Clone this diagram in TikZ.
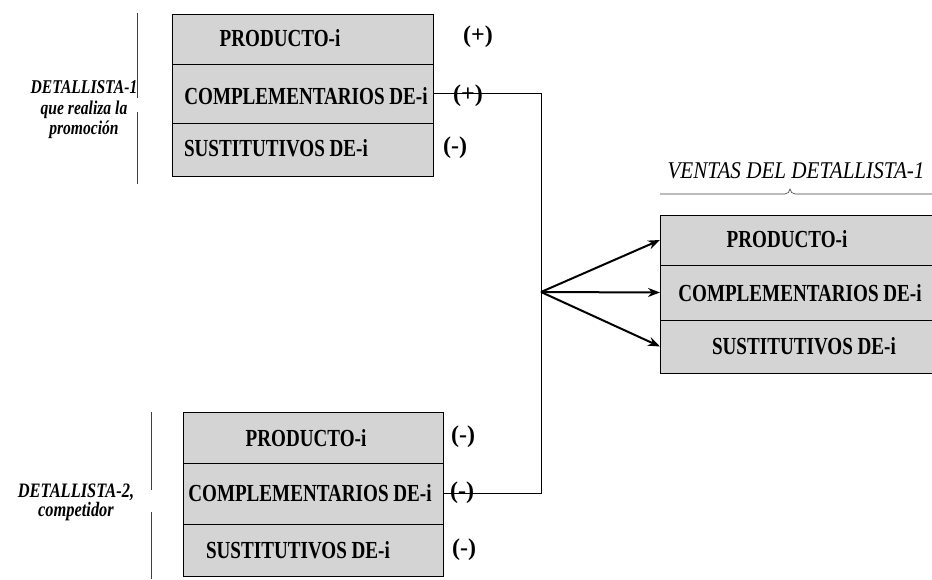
\documentclass[tikz,border=0pt]{standalone}
\usepackage{fontspec}
\setmainfont{Liberation Serif}
\newfontfamily\boxfont[FakeStretch=0.78]{Liberation Serif}
\newfontfamily\lblfont[FakeStretch=0.8]{Liberation Serif}
\newfontfamily\ttlfont[FakeStretch=0.88]{Liberation Serif}
\usetikzlibrary{arrows.meta}
\begin{document}
\begin{tikzpicture}[x=1pt,y=-1pt,
  rowbox/.style={draw=black, line width=0.8pt, fill=black!17, anchor=north west, inner sep=0pt, outer sep=0pt},
  boxtxt/.style={font=\boxfont\bfseries\fontsize{24.5}{25}\selectfont, inner sep=0pt},
  sign/.style={font=\bfseries\fontsize{24}{24}\selectfont, inner sep=0pt},
  lbl/.style={font=\lblfont\bfseries\itshape\fontsize{19.5}{20.5}\selectfont, align=center, inner sep=0pt},
  ttl/.style={font=\ttlfont\itshape\fontsize{24}{24}\selectfont, inner sep=0pt},
  wire/.style={line width=0.8pt},
  arr/.style={line width=2pt, -{Stealth[length=12pt,width=9pt]}},
  brk/.style={line width=0.6pt, black!75}]
\useasboundingbox (0,0) rectangle (932,579);
\clip (0,0) rectangle (932,579);
% top group (detallista 1)
\node[rowbox, minimum width=261pt, minimum height=50pt] (t1) at (172,14) {};
\node[rowbox, minimum width=261pt, minimum height=59pt] (t2) at (172,64) {};
\node[rowbox, minimum width=261pt, minimum height=53pt] (t3) at (172,123) {};
\node[boxtxt] (t1txt) at (280,38) {PRODUCTO-i};
\node[boxtxt] (t2txt) at (306,96) {COMPLEMENTARIOS DE-i};
\node[boxtxt] (t3txt) at (276,148) {SUSTITUTIVOS DE-i};
\node[sign] (s1) at (478,37) {(+)};
\node[sign] (s2) at (468,96) {(+)};
\node[sign] (s3) at (455,148) {(-)};
% bottom group (detallista 2)
\node[rowbox, minimum width=260pt, minimum height=51pt] (b1) at (183,412) {};
\node[rowbox, minimum width=260pt, minimum height=61pt] (b2) at (183,463) {};
\node[rowbox, minimum width=260pt, minimum height=52pt] (b3) at (183,524) {};
\node[boxtxt] (b1txt) at (306,438) {PRODUCTO-i};
\node[boxtxt] (b2txt) at (310,493) {COMPLEMENTARIOS DE-i};
\node[boxtxt] (b3txt) at (298,550) {SUSTITUTIVOS DE-i};
\node[sign] (u1) at (463,437) {(-)};
\node[sign] (u2) at (462,493) {(-)};
\node[sign] (u3) at (464,550) {(-)};
% right group (ventas)
\node[rowbox, minimum width=290pt, minimum height=50pt] (r1) at (660,215) {};
\node[rowbox, minimum width=290pt, minimum height=55pt] (r2) at (660,265) {};
\node[rowbox, minimum width=290pt, minimum height=53pt] (r3) at (660,320) {};
\node[boxtxt] (r1txt) at (787,239) {PRODUCTO-i};
\node[boxtxt] (r2txt) at (800,293) {COMPLEMENTARIOS DE-i};
\node[boxtxt] (r3txt) at (804,346) {SUSTITUTIVOS DE-i};
\node[ttl] (title) at (796,171) {VENTAS DEL DETALLISTA-1};
\draw[brk] (660,194) -- (785,194) to[out=0,in=-100] (790,189) to[out=-80,in=180] (795,194) -- (940,194);
% left labels and brackets
\node[lbl] (lab1) at (84,110) {DETALLISTA-1\\que realiza la\\promoción};
\node[lbl, font=\lblfont\bfseries\itshape\fontsize{20.5}{19}\selectfont] (lab2) at (76,502) {DETALLISTA-2,\\competidor};
\draw[brk] (137,13) -- (137,98);
\draw[brk] (137,112) -- (137,184);
\draw[brk] (151,412) -- (151,490);
\draw[brk] (151,512) -- (151,579);
% connectors
\coordinate (hub) at (541,292);
\draw[wire] (t2.east) -| (hub);
\draw[wire] (hub) |- (b2.east);
\draw[arr] (hub) -- (r1.west);
\draw[arr] (hub) -- (r2.west);
\draw[arr] (hub) -- (r3.west);
\end{tikzpicture}
\end{document}
